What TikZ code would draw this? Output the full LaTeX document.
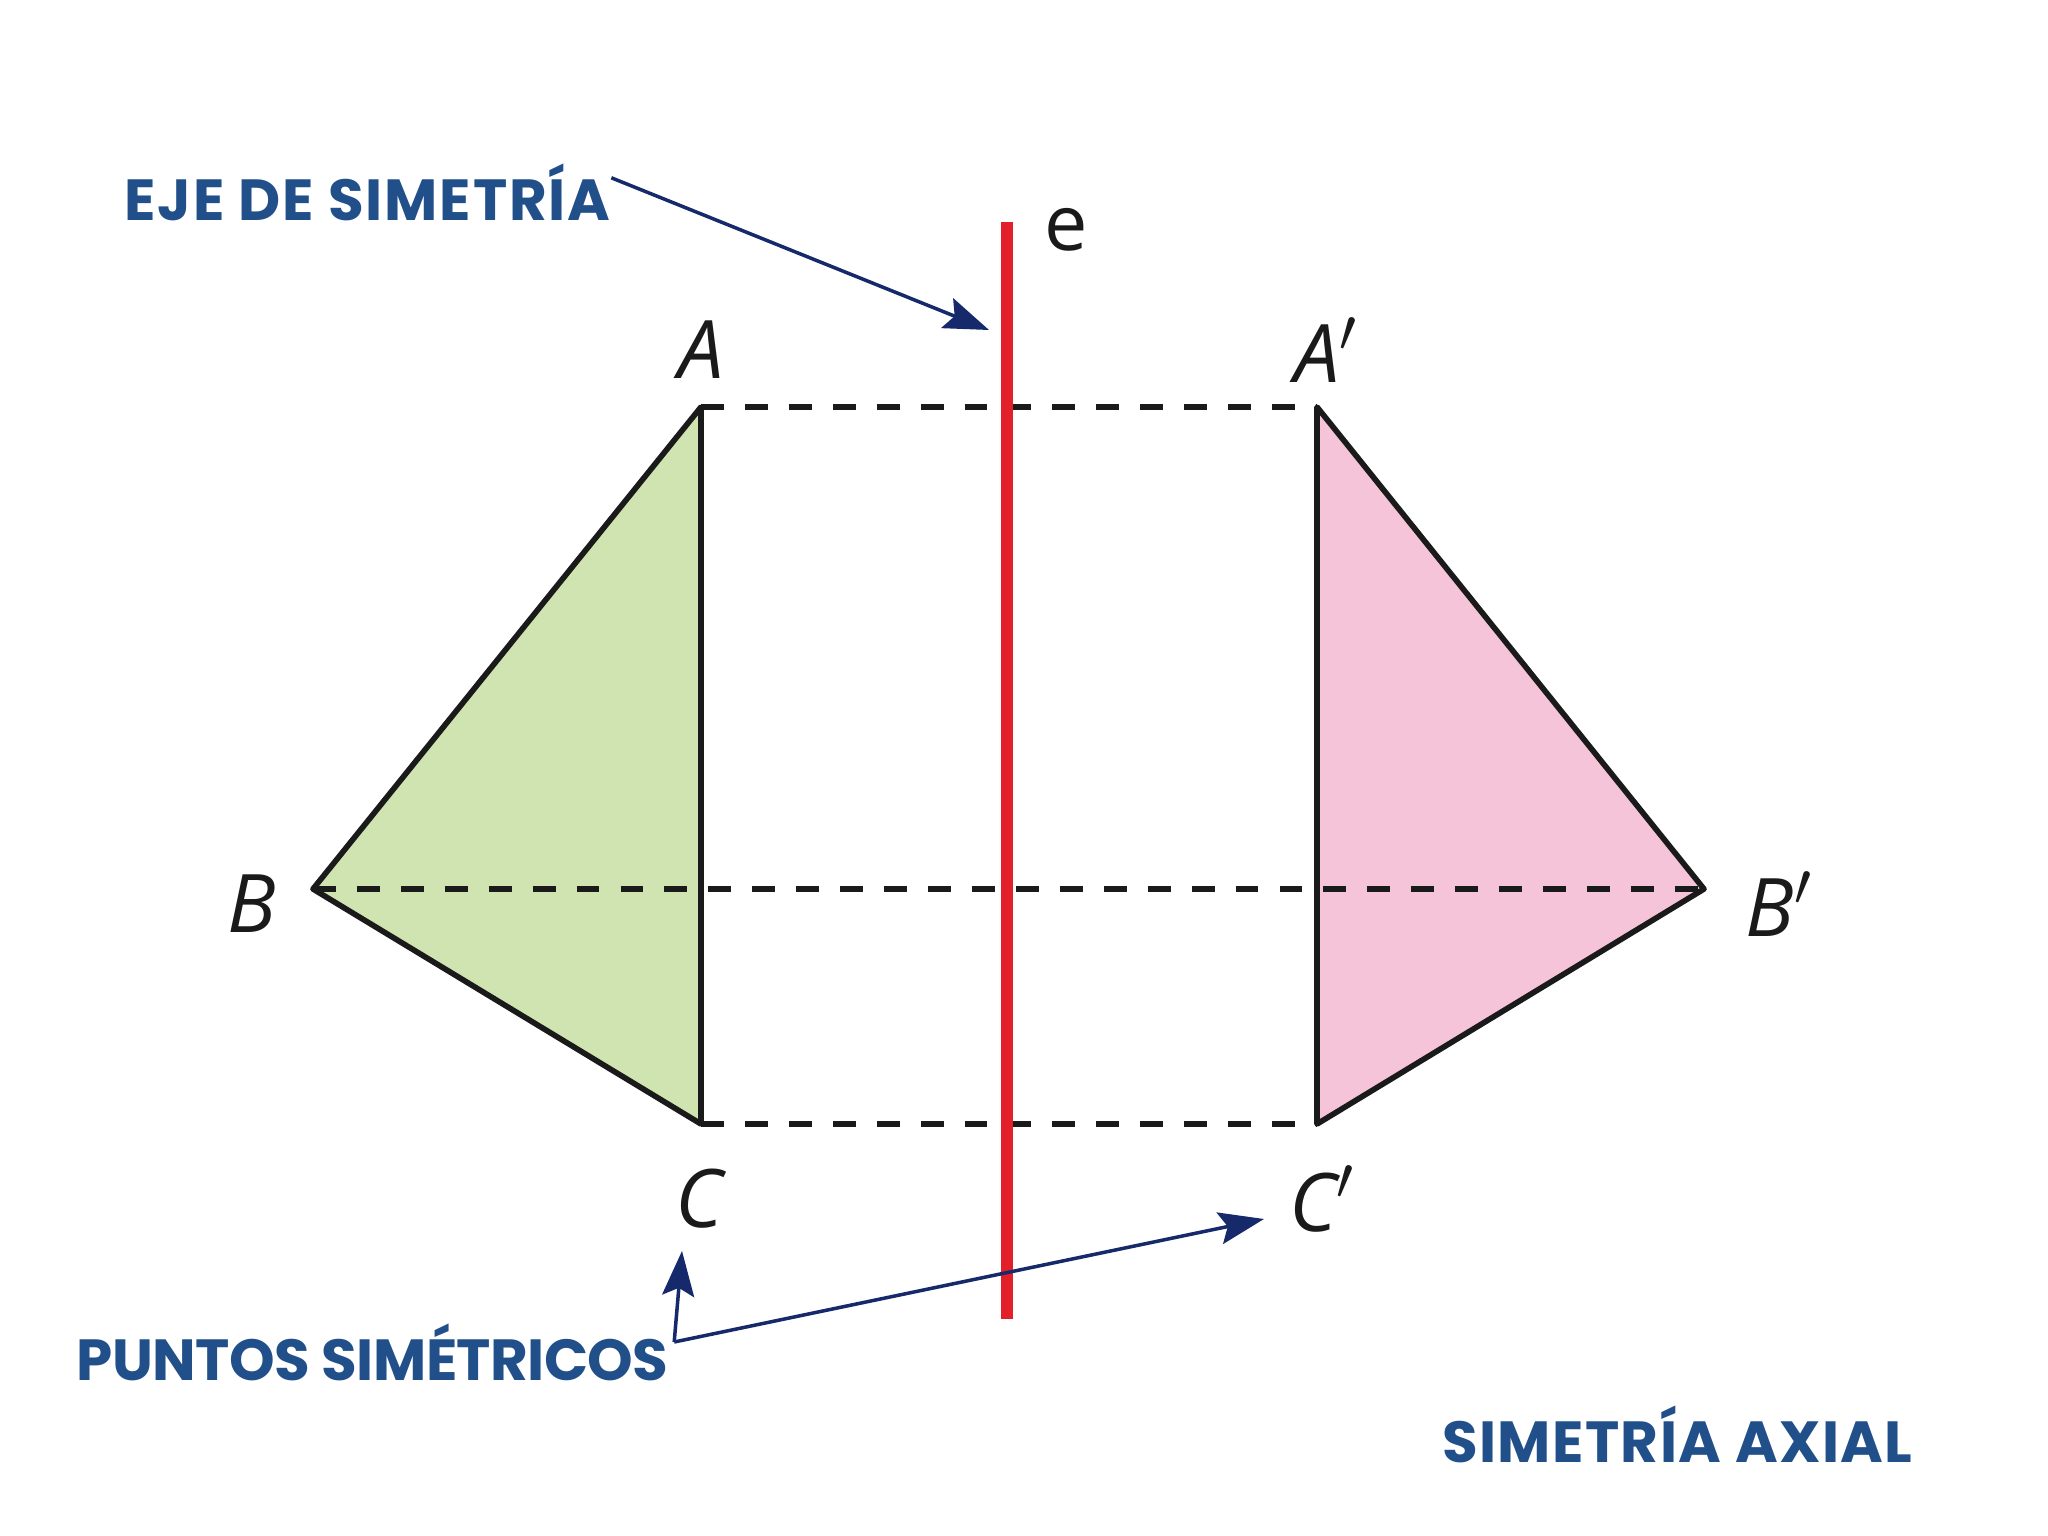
\documentclass[tikz,border=0pt]{standalone}
\usepackage{fontspec}
\usepackage{tikz}
\usetikzlibrary{arrows.meta,positioning}
\setmainfont{Open Sans}
\newfontfamily\labfont{Poppins}[BoldFont={* Bold}]
\definecolor{bg}{HTML}{FFFFFF}
\definecolor{ink}{HTML}{1A1A1A}
\definecolor{axis}{HTML}{E3202A}
\definecolor{navy}{HTML}{15296B}
\definecolor{title}{HTML}{214F8A}
\definecolor{leftfill}{HTML}{D0E4B1}
\definecolor{rightfill}{HTML}{F6C4D8}
\tikzset{
  edge/.style={draw=ink, line width=1.6pt, line join=round},
  guide/.style={draw=ink, line width=1.5pt, dash pattern=on 6.5pt off 6pt},
  eje/.style={draw=axis, line width=3.6pt},
  pointer/.style={draw=navy, line width=1pt, -{Stealth[length=4.5mm,width=3.2mm,inset=0.8mm]}},
  vlab/.style={text=ink, font=\fontsize{23}{26}\selectfont\itshape, inner sep=0pt},
  tag/.style={text=title, font=\labfont\bfseries\fontsize{16.5}{19}\selectfont, inner sep=0pt},
}
\begin{document}
\begin{tikzpicture}[x=1cm,y=-1cm]
\useasboundingbox[fill=bg] (0,0) rectangle (20.48,15.36);

% vertices
\coordinate (A)  at (7.01,4.07);
\coordinate (B)  at (3.13,8.89);
\coordinate (C)  at (7.01,11.24);
\coordinate (Ap) at (13.17,4.07);
\coordinate (Bp) at (17.04,8.89);
\coordinate (Cp) at (13.17,11.24);

% triangles
\filldraw[edge, fill=leftfill]  (A) -- (B) -- (C) -- cycle;
\filldraw[edge, fill=rightfill] (Ap) -- (Bp) -- (Cp) -- cycle;

% dashed guides
\draw[guide] (A) -- (Ap);
\draw[guide] (B) -- (Bp);
\draw[guide] (C) -- (Cp);

% axis e
\coordinate (e1) at (10.07,2.22);
\coordinate (e2) at (10.07,13.19);
\draw[eje] (e1) -- (e2);
\node[text=ink, font=\fontsize{22}{24}\selectfont, inner sep=0pt] (elab) at (10.66,2.30) {e};

% vertex labels
\node[vlab] (labA)  at (7.01,3.50)  {A};
\node[vlab] (labAp) at (13.26,3.50) {A$'$};
\node[vlab] (labB)  at (2.52,9.04)  {B};
\node[vlab] (labBp) at (17.79,9.04) {B$'$};
\node[vlab] (labC)  at (6.99,11.99) {C};
\node[vlab] (labCp) at (13.22,11.99) {C$'$};

% texts
\node[tag, anchor=west] (eje)    at (1.24,1.92)  {\addfontfeature{LetterSpace=3.2}EJE DE SIMETRÍA};
\node[tag, anchor=west] (puntos) at (0.76,13.52) {\addfontfeature{LetterSpace=-1}PUNTOS SIMÉTRICOS};
\node[tag, anchor=east] (axial)  at (19.13,14.34) {\addfontfeature{LetterSpace=2.4}SIMETRÍA AXIAL};

% pointers
\coordinate (pe)  at (9.89,3.30);
\coordinate (pc)  at (6.82,12.51);
\coordinate (pcp) at (12.64,12.19);
\draw[pointer] (eje.north east) ++(0,0.15) -- (pe);
\draw[pointer] (puntos.east) ++(0.05,-0.1) -- (pc);
\draw[pointer] (puntos.east) ++(0.05,-0.1) -- (pcp);
\end{tikzpicture}
\end{document}
